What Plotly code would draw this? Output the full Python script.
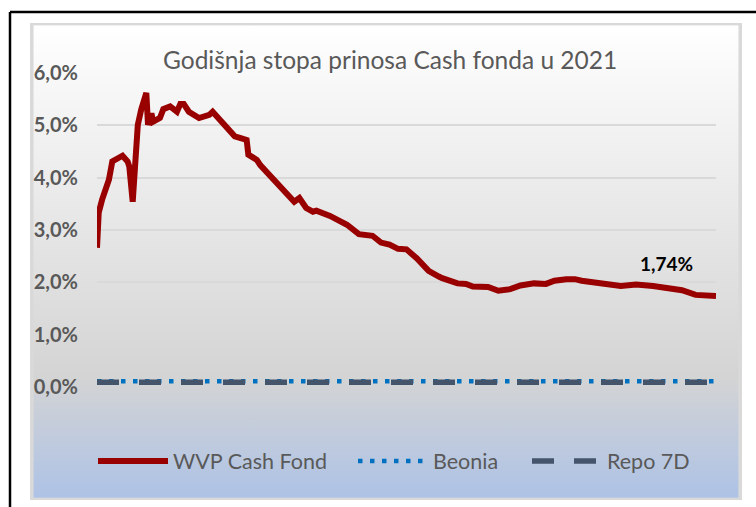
import base64
import plotly.graph_objects as go

# ---------------- data ----------------
wvp_dates = [
    "2021-01-01", "2021-01-02", "2021-01-04", "2021-01-06", "2021-01-08", "2021-01-10",
    "2021-01-13", "2021-01-16", "2021-01-19", "2021-01-20", "2021-01-22", "2021-01-23",
    "2021-01-25", "2021-01-27", "2021-01-30", "2021-01-31", "2021-02-02", "2021-02-03",
    "2021-02-07", "2021-02-09", "2021-02-13", "2021-02-17", "2021-02-19", "2021-02-21",
    "2021-02-24", "2021-03-02", "2021-03-08", "2021-03-10", "2021-03-15", "2021-03-18",
    "2021-03-23", "2021-03-27", "2021-03-30", "2021-03-31", "2021-04-02", "2021-04-05",
    "2021-04-07", "2021-04-27", "2021-04-30", "2021-05-04", "2021-05-08", "2021-05-10",
    "2021-05-18", "2021-05-24", "2021-05-28", "2021-06-04", "2021-06-12", "2021-06-17",
    "2021-06-22", "2021-06-27", "2021-07-02", "2021-07-08", "2021-07-15", "2021-07-21",
    "2021-07-23", "2021-08-01", "2021-08-06", "2021-08-10", "2021-08-19", "2021-08-25",
    "2021-09-01", "2021-09-07", "2021-09-15", "2021-09-22", "2021-09-27", "2021-10-04",
    "2021-10-09", "2021-10-13", "2021-10-20", "2021-10-25", "2021-11-05", "2021-11-14",
    "2021-11-24", "2021-12-11", "2021-12-19", "2021-12-31",
]
wvp_values = [
    2.66, 3.33, 3.58, 3.77, 3.96, 4.31,
    4.37, 4.42, 4.31, 4.21, 3.54, 4.21,
    5.01, 5.30, 5.62, 5.01, 5.23, 5.07,
    5.14, 5.31, 5.36, 5.26, 5.41, 5.41,
    5.26, 5.14, 5.20, 5.26, 5.07, 4.99,
    4.79, 4.75, 4.72, 4.44, 4.40, 4.34,
    4.24, 3.54, 3.61, 3.42, 3.35, 3.37,
    3.27, 3.16, 3.10, 2.92, 2.89, 2.76,
    2.72, 2.64, 2.63, 2.46, 2.22, 2.11,
    2.08, 1.98, 1.97, 1.92, 1.91, 1.84,
    1.87, 1.94, 1.98, 1.97, 2.03, 2.06,
    2.06, 2.03, 2.00, 1.98, 1.93, 1.96,
    1.93, 1.85, 1.76, 1.74,
]

ref_dates = ["2021-01-01", "2021-02-01", "2021-03-01", "2021-04-01", "2021-05-01", "2021-06-01",
             "2021-07-01", "2021-08-01", "2021-09-01", "2021-10-01", "2021-11-01", "2021-12-01",
             "2021-12-31"]
beonia_values = [0.11, 0.11, 0.11, 0.11, 0.11, 0.11, 0.11, 0.11, 0.11, 0.11, 0.11, 0.11, 0.11]
repo_values = [0.09, 0.09, 0.09, 0.09, 0.09, 0.09, 0.09, 0.09, 0.09, 0.09, 0.09, 0.09, 0.09]

series_names = ["WVP Cash Fond", "Beonia", "Repo 7D"]
y_ticks = [0, 1, 2, 3, 4, 5, 6]
y_tick_labels = ["0,0%", "1,0%", "2,0%", "3,0%", "4,0%", "5,0%", "6,0%"]
title_text = "Godišnja stopa prinosa Cash fonda u 2021"
last_label = "1,74%"

# ---------------- layout helpers (pixel -> paper) ----------------
W, H = 756, 507
PL, PR, PT, PB = 97, 716, 73, 387  # plot area in pixels


def px(x):
    return (x - PL) / (PR - PL)


def py(y):
    return (PB - y) / (PB - PT)


grad_svg = (
    '<svg xmlns="http://www.w3.org/2000/svg" width="100" height="100" preserveAspectRatio="none">'
    '<defs><linearGradient id="g" x1="0" y1="0" x2="0" y2="1">'
    '<stop offset="0" stop-color="#ffffff"/>'
    '<stop offset="0.74" stop-color="#d4d4d4"/>'
    '<stop offset="1" stop-color="#adc2e6"/>'
    '</linearGradient></defs>'
    '<rect x="0" y="0" width="100" height="100" fill="url(#g)" stroke="#d9d9d9" stroke-width="1"/>'
    '</svg>'
)
grad_uri = "data:image/svg+xml;base64," + base64.b64encode(grad_svg.encode()).decode()

fig = go.Figure()

fig.add_trace(go.Scatter(
    x=wvp_dates, y=wvp_values, name=series_names[0], mode="lines",
    line=dict(color="#990000", width=6), legend="legend",
))
fig.add_trace(go.Scatter(
    x=ref_dates, y=beonia_values, name=series_names[1], mode="lines",
    line=dict(color="#0070c0", width=4.5, dash="4.5px,7.5px"), legend="legend2",
))
fig.add_trace(go.Scatter(
    x=ref_dates, y=repo_values, name=series_names[2], mode="lines",
    line=dict(color="#44546a", width=5.5, dash="22px,20px"), legend="legend3",
))

legend_common = dict(
    orientation="h", yanchor="middle", xanchor="left", y=py(461),
    font=dict(family="Lato", size=21.5, color="#595959"),
    bgcolor="rgba(0,0,0,0)", itemwidth=70, borderwidth=0,
)

fig.update_layout(
    width=W, height=H,
    margin=dict(l=PL, r=W - PR, t=PT, b=H - PB),
    paper_bgcolor="white",
    plot_bgcolor="rgba(0,0,0,0)",
    showlegend=True,
    legend=dict(legend_common, x=px(93)),
    legend2=dict(legend_common, x=px(353)),
    legend3=dict(legend_common, x=px(527)),
    xaxis=dict(
        range=["2021-01-01", "2021-12-31"], showgrid=False, zeroline=False,
        showticklabels=False, showline=False, ticks="",
    ),
    yaxis=dict(
        range=[0, 6], tickvals=y_ticks, ticktext=y_tick_labels,
        showgrid=True, gridcolor="#d9d9d9", gridwidth=1.5, zeroline=False,
        showline=False, ticks="", ticklabelstandoff=18,
        tickfont=dict(family="Lato", size=20, color="#595959", weight="bold"),
    ),
    images=[dict(
        source=grad_uri, xref="paper", yref="paper",
        x=px(30), y=py(23), sizex=px(742) - px(30), sizey=py(23) - py(500),
        xanchor="left", yanchor="top", sizing="stretch", layer="below",
    )],
    shapes=[
        dict(type="line", xref="paper", yref="paper", x0=px(10), x1=px(756), y0=py(12), y1=py(12),
             line=dict(color="black", width=2.5)),
        dict(type="line", xref="paper", yref="paper", x0=px(10), x1=px(10), y0=py(12), y1=py(507),
             line=dict(color="black", width=2.5)),
    ],
    annotations=[
        dict(text=title_text, xref="paper", yref="paper", x=px(390), y=py(60),
             xanchor="center", yanchor="middle", showarrow=False,
             font=dict(family="Lato", size=24.5, color="#595959")),
        dict(text=last_label, xref="paper", yref="paper", x=px(666), y=py(263),
             xanchor="center", yanchor="middle", showarrow=False,
             font=dict(family="Lato", size=19, color="black", weight="bold")),
    ],
)

fig.write_html("out.html", post_script="document.body.style.margin='0';",
               config={"displayModeBar": False})
